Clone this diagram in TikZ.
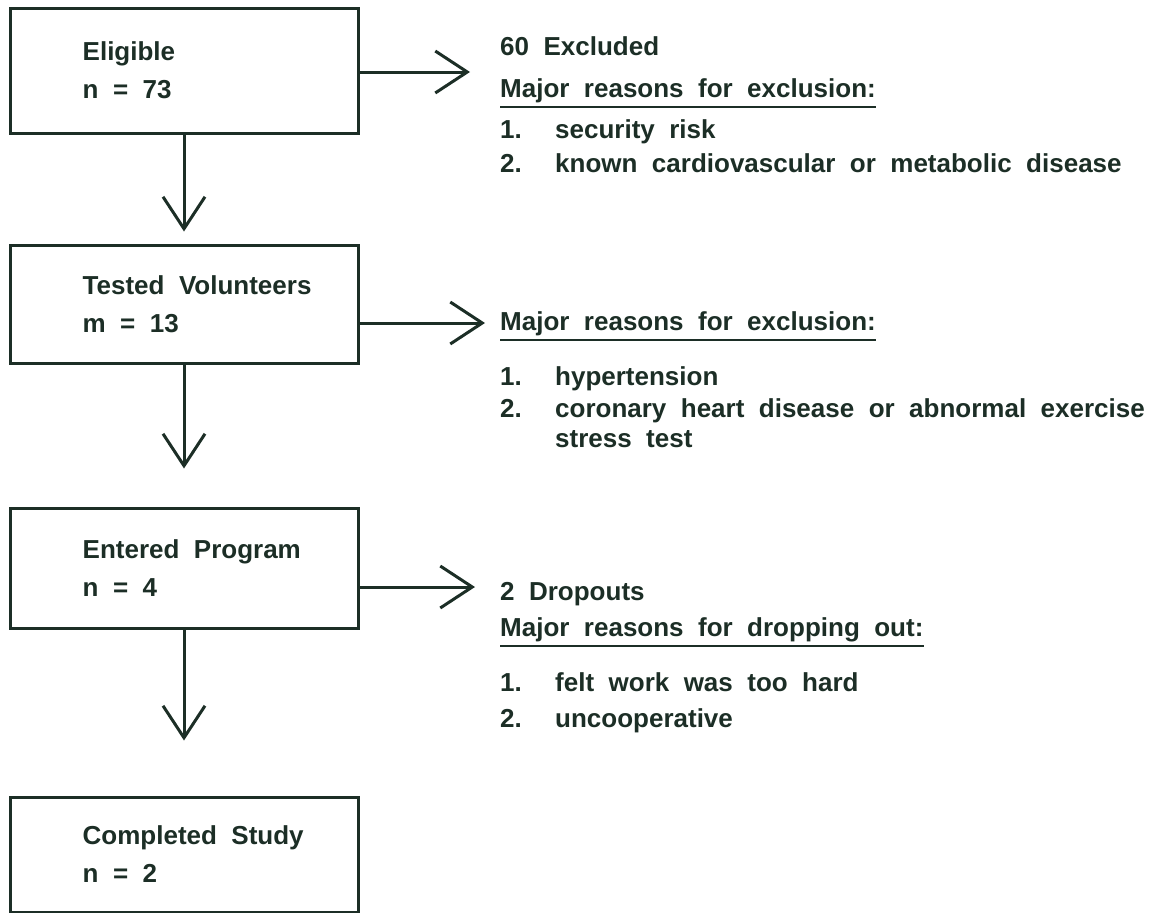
\documentclass[tikz,border=0pt]{standalone}
\usepackage{fontspec}
\setmainfont{Liberation Sans}[WordSpace=2]
\usepackage{tikz}
\usetikzlibrary{calc,arrows.meta}

\definecolor{ink}{RGB}{28,46,38}

\tikzset{
	flowbox/.style={draw=ink, line width=3pt, rectangle, minimum width=348pt, inner sep=0pt},
	boxtext/.style={align=left, anchor=west, inner sep=0pt, text=ink, font=\fontsize{26}{38}\selectfont\bfseries},
	sidetext/.style={anchor=base west, inner sep=0pt, text=ink, font=\fontsize{26}{32}\selectfont\bfseries},
	flow/.style={draw=ink, line width=3pt, line join=round, -{Straight Barb[length=32pt,width=42pt]}},
	uline/.style={draw=ink, line width=2pt}
}
\newcommand{\itemno}[1]{\makebox[55pt][l]{#1}}

\begin{document}
\begin{tikzpicture}[x=1pt,y=-1pt]
	\useasboundingbox (0,0) rectangle (1149,913);
	
	%boxes
	\node[flowbox, minimum height=125pt] (eligible)  at (184,70.5)  {};
	\node[flowbox, minimum height=118pt] (tested)    at (184,304)   {};
	\node[flowbox, minimum height=120pt] (entered)   at (184,568)   {};
	\node[flowbox, minimum height=115pt] (completed) at (184,854.5) {};
	
	%box labels
	\node[boxtext] (eligible-l)  at ([xshift=74pt]eligible.west)  {Eligible\\n = 73};
	\node[boxtext] (tested-l)    at ([xshift=74pt]tested.west)    {Tested Volunteers\\m = 13};
	\node[boxtext] (entered-l)   at ([xshift=74pt]entered.west)   {Entered Program\\n = 4};
	\node[boxtext] (completed-l) at ([xshift=74pt]completed.west) {Completed Study\\n = 2};
	
	%arrows
	\coordinate (tip1) at (470,72);
	\coordinate (tip2) at (485,323);
	\coordinate (tip3) at (475,587);
	\draw[flow] (eligible.east |- tip1) -- (tip1);		%eligible--excluded
	\draw[flow] (tested.east |- tip2)   -- (tip2);		%tested--excluded
	\draw[flow] (entered.east |- tip3)  -- (tip3);		%entered--dropouts
	\draw[flow, shorten >=12pt] (eligible.south) -- (tested.north);
	\draw[flow, shorten >=38pt] (tested.south)   -- (entered.north);
	\draw[flow, shorten >=55pt] (entered.south)  -- (completed.north);
	
	%first exclusion
	\node[sidetext] (ex1-head)  at (500,55)  {60 Excluded};
	\node[sidetext] (ex1-major) at (500,97)  {Major reasons for exclusion:};
	\node[sidetext] (ex1-a)     at (500,138) {\itemno{1.}security risk};
	\node[sidetext] (ex1-b)     at (500,172) {\itemno{2.}known cardiovascular or metabolic disease};
	
	%second exclusion
	\node[sidetext] (ex2-major) at (500,330) {Major reasons for exclusion:};
	\node[sidetext] (ex2-a)     at (500,385) {\itemno{1.}hypertension};
	\node[sidetext] (ex2-b)     at (500,417) {\itemno{2.}coronary heart disease or abnormal exercise};
	\node[sidetext] (ex2-c)     at (555,447) {stress test};
	
	%dropouts
	\node[sidetext] (drop-head)  at (500,600) {2 Dropouts};
	\node[sidetext] (drop-major) at (500,636) {Major reasons for dropping out:};
	\node[sidetext] (drop-a)     at (500,691) {\itemno{1.}felt work was too hard};
	\node[sidetext] (drop-b)     at (500,727) {\itemno{2.}uncooperative};
	
	%underlines
	\draw[uline] ($(ex1-major.base west)+(0,10)$)  -- ($(ex1-major.base east)+(0,10)$);
	\draw[uline] ($(ex2-major.base west)+(0,10)$)  -- ($(ex2-major.base east)+(0,10)$);
	\draw[uline] ($(drop-major.base west)+(0,10)$) -- ($(drop-major.base east)+(0,10)$);
\end{tikzpicture}
\end{document}
